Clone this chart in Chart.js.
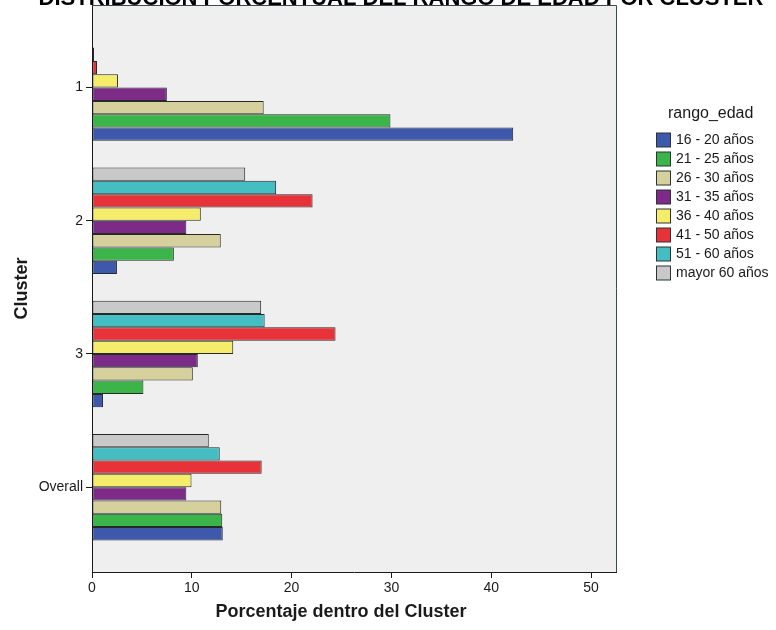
<!DOCTYPE html>
<html>
<head>
<meta charset="utf-8">
<script src="https://cdn.jsdelivr.net/npm/chart.js@4/dist/chart.umd.min.js"></script>
<style>
  html, body { margin: 0; padding: 0; background: #ffffff; }
  #wrap { width: 776px; height: 630px; position: relative; }
</style>
</head>
<body>
<div id="wrap"><canvas id="chart" width="776" height="630"></canvas></div>
<script>
// Clusters (rows) and age ranges (series)
const clusters = ['1', '2', '3', 'Overall'];
const ageGroups = ['16 - 20 años', '21 - 25 años', '26 - 30 años', '31 - 35 años',
                   '36 - 40 años', '41 - 50 años', '51 - 60 años', 'mayor 60 años'];

// Percentage of each cluster in each age range
const age16to20 = [42.2, 2.5, 1.1, 13.1];
const age21to25 = [29.9, 8.2, 5.15, 13.05];
const age26to30 = [17.2, 12.9, 10.1, 12.95];
const age31to35 = [7.5, 9.45, 10.6, 9.45];
const age36to40 = [2.6, 10.9, 14.15, 9.97];
const age41to50 = [0.5, 22.1, 24.4, 17.0];
const age51to60 = [0.2, 18.45, 17.3, 12.8];
const ageOver60 = [0.0, 15.35, 16.95, 11.7];

const xTickValues = [0, 10, 20, 30, 40, 50];

const chartTitle = 'DISTRIBUCIÓN PORCENTUAL DEL RANGO DE EDAD POR CLUSTER';
const xTitle = 'Porcentaje dentro del Cluster';
const legendTitle = 'rango_edad';

const seriesValues = [age16to20, age21to25, age26to30, age31to35,
                      age36to40, age41to50, age51to60, ageOver60];
const seriesColors = ['#3e58ab', '#3bb44a', '#d6d19c', '#7d2a88',
                      '#f6ec6c', '#e8323a', '#44bec3', '#c9c9c9'];

const FONT = '"Liberation Sans", Arial, sans-serif';
const INK = '#1a1a1a';

// Datasets listed oldest-first so the youngest range sits at the bottom of each group
const datasets = ageGroups.map((label, s) => ({
  label,
  data: seriesValues[s].map((v, i) => ({ x: v, y: i })),
  backgroundColor: seriesColors[s],
  borderColor: 'rgba(25,30,30,0.95)',
  borderWidth: 1,
  borderSkipped: false,
  categoryPercentage: 0.8,
  barPercentage: 1.0
})).reverse();

// Grey plot panel with a frame
const panelPlugin = {
  id: 'panel',
  beforeDraw(chart) {
    const { ctx, chartArea: a } = chart;
    ctx.save();
    ctx.fillStyle = '#efefef';
    ctx.fillRect(a.left, a.top, a.right - a.left, a.bottom - a.top);
    ctx.restore();
  },
  afterDatasetsDraw(chart) {
    const { ctx, chartArea: a } = chart;
    ctx.save();
    ctx.strokeStyle = '#3a4a4a';
    ctx.lineWidth = 1;
    ctx.beginPath();
    ctx.moveTo(a.left, a.top + 0.5);
    ctx.lineTo(a.right + 0.5, a.top + 0.5);
    ctx.lineTo(a.right + 0.5, a.bottom);
    ctx.stroke();
    ctx.restore();
  }
};

// Chart heading along the top edge and the horizontal axis caption
const textPlugin = {
  id: 'texts',
  afterDraw(chart) {
    const { ctx } = chart;
    ctx.save();
    ctx.fillStyle = '#000';
    ctx.textAlign = 'center';
    ctx.textBaseline = 'alphabetic';
    ctx.font = 'bold 22px ' + FONT;
    ctx.fillText(chartTitle, 401, 5);
    ctx.fillStyle = INK;
    ctx.textBaseline = 'middle';
    ctx.font = 'bold 18px ' + FONT;
    ctx.fillText(xTitle, 341, 612);
    ctx.restore();
  }
};

// Legend block on the right
const legendPlugin = {
  id: 'sideLegend',
  afterDraw(chart) {
    const { ctx } = chart;
    ctx.save();
    ctx.fillStyle = INK;
    ctx.textBaseline = 'middle';
    ctx.textAlign = 'left';
    ctx.font = '16px ' + FONT;
    ctx.fillText(legendTitle, 668, 114);
    ctx.font = '14px ' + FONT;
    ageGroups.forEach((label, i) => {
      const cy = 140 + i * 19;
      ctx.fillStyle = seriesColors[i];
      ctx.fillRect(656.5, cy - 7, 14, 14);
      ctx.strokeStyle = '#2a3434';
      ctx.lineWidth = 1;
      ctx.strokeRect(656.5, cy - 7, 14, 14);
      ctx.fillStyle = INK;
      ctx.fillText(label, 676, cy + 0.5);
    });
    ctx.restore();
  }
};

new Chart(document.getElementById('chart'), {
  type: 'bar',
  data: { datasets },
  plugins: [panelPlugin, textPlugin, legendPlugin],
  options: {
    indexAxis: 'y',
    responsive: false,
    animation: false,
    layout: { padding: { top: 5, right: 160, bottom: 0, left: 0 } },
    plugins: {
      legend: { display: false },
      title: { display: false },
      tooltip: { enabled: false }
    },
    scales: {
      x: {
        type: 'linear',
        min: 0,
        max: 52.5,
        afterBuildTicks(scale) { scale.ticks = xTickValues.map(v => ({ value: v })); },
        afterFit(scale) { scale.height = 58; scale.paddingLeft = 0; scale.paddingRight = 0; },
        grid: { drawOnChartArea: false, drawTicks: true, tickLength: 6, color: INK },
        border: { display: true, color: INK, width: 1 },
        ticks: { color: INK, font: { family: FONT, size: 14 }, padding: 2 }
      },
      y: {
        type: 'linear',
        reverse: true,
        offset: false,
        min: -0.62,
        max: 3.637,
        afterBuildTicks(scale) { scale.ticks = clusters.map((_, i) => ({ value: i })); },
        afterFit(scale) { scale.width = 92; scale.paddingTop = 0; scale.paddingBottom = 0; },
        grid: { offset: false, drawOnChartArea: false, drawTicks: true, tickLength: 6, color: INK },
        border: { display: true, color: INK, width: 1 },
        ticks: {
          color: INK,
          font: { family: FONT, size: 14 },
          padding: 3,
          callback: (v) => clusters[v] ?? ''
        },
        title: {
          display: true,
          text: 'Cluster',
          color: INK,
          font: { family: FONT, size: 18, weight: 'bold' },
          padding: { top: 11, bottom: 0 }
        }
      }
    }
  }
});
</script>
</body>
</html>
